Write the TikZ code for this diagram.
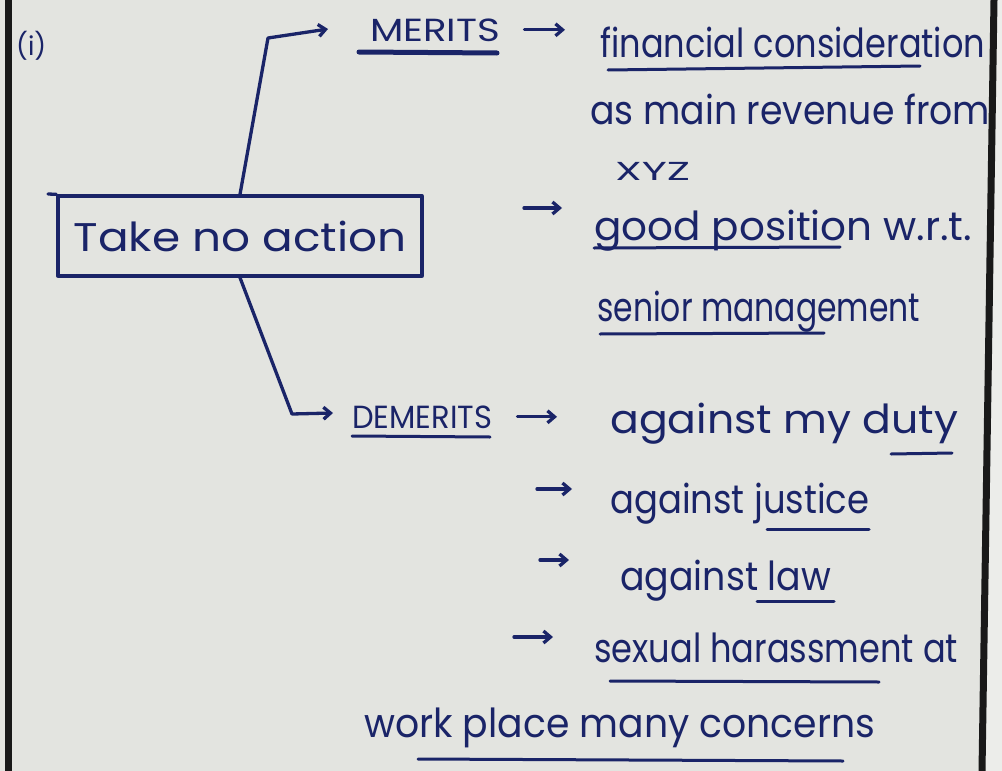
\documentclass[tikz,border=0pt]{standalone}
\usepackage{fontspec}
\setmainfont{Poppins}
\usetikzlibrary{arrows.meta}
\definecolor{paper}{RGB}{227,228,224}
\definecolor{paperlight}{RGB}{236,237,234}
\definecolor{ink}{RGB}{26,36,104}
% set a word group to a given width, keeping its height
\newcommand\fitto[2]{\resizebox{#1pt}{\height}{#2}}
\begin{document}
\begin{tikzpicture}[x=1pt,y=-1pt,
  pen/.style={draw=ink, line width=3.3pt, line cap=round, line join=round},
  arr/.style={pen, -{Straight Barb[length=7pt,width=12pt]}},
  words/.style={text=ink, inner sep=0pt, anchor=base west, font=\fontsize{40}{44}\selectfont},
  caps/.style={words, font=\fontsize{32}{36}\selectfont},
  small/.style={words, font=\fontsize{26}{30}\selectfont},
  boxed/.style={pen, text=ink, inner sep=0pt, minimum width=364pt, minimum height=80pt,
    font=\fontsize{40}{44}\selectfont},
  uline/.style={pen, line width=3pt}]
\useasboundingbox (0,0) rectangle (1002,771);
% paper
\fill[paper] (0,0) rectangle (1002,771);
\fill[paperlight] (992,0) -- (1002,0) -- (1002,771) -- (982,771) -- cycle;

% central box
\node[boxed] (box) at (240,236) {\fitto{333}{Take no action}};
\draw[pen] (48,194) -- (box.north west);

% headings
\node[small] (num) at (16,55) {\fitto{30}{(i)}};
\node[caps] (merits) at (370,41) {\fitto{130}{MERITS}};
\node[caps] (demerits) at (352,428) {\fitto{140}{DEMERITS}};

% merits
\node[words] (fin) at (600,57) {\fitto{385}{financial consideration}};
\node[words] (rev) at (590,124) {\fitto{400}{as main revenue from}};
\node[small] (xyz) at (615,180) {\fitto{75}{XYZ}};
\node[words] (pos) at (594,240) {\fitto{378}{good position w.r.t.}};
\node[words] (senior) at (597,321) {\fitto{323}{senior management}};

% demerits
\node[words] (duty) at (610,433) {\fitto{348}{against my duty}};
\node[words] (justice) at (610,513) {\fitto{259}{against justice}};
\node[words] (law) at (620,590) {\fitto{211}{against law}};
\node[words] (harass) at (594,662) {\fitto{364}{sexual harassment at}};
\node[words] (work) at (364,737) {\fitto{511}{work place many concerns}};

% branches out of the box
\coordinate (mtip) at (328,29);
\coordinate (dtip) at (333,413);
\draw[arr] (box.north) -- (268,38) -- (mtip);
\draw[arr] (box.south) -- (292,414) -- (dtip);

% arrows to the points
\draw[arr, shorten <=24pt, shorten >=35pt] (merits.east) -- (merits.east -| fin.west);
\draw[arr, shorten <=25pt, shorten >=53pt] (demerits.east) -- (demerits.east -| duty.west);
\coordinate (pA) at (524,208); \coordinate (pB) at (562,208);
\coordinate (jA) at (537,489); \coordinate (jB) at (572,489);
\coordinate (lA) at (540,560); \coordinate (lB) at (569,560);
\coordinate (hA) at (514,637); \coordinate (hB) at (553,637);
\draw[arr] (pA) -- (pB);
\draw[arr] (jA) -- (jB);
\draw[arr] (lA) -- (lB);
\draw[arr] (hA) -- (hB);

% underlines
\draw[uline, line width=5pt] (359,52) -- (497,53);
\draw[uline] (608,70) -- (920,66);
\draw[uline] (594,248) -- (840,247);
\draw[uline] (600,334) -- (824,333);
\draw[uline] (352,436) -- (490,437);
\draw[uline] (891,454) -- (952,453);
\draw[uline] (767,529) -- (869,529);
\draw[uline] (757,601) -- (834,601);
\draw[uline] (610,681) -- (879,682);
\draw[uline] (418,759) -- (843,761);

% page edges
\draw[line width=7pt, black!90] (8,0) -- (8,771);
\draw[line width=7pt, black!90] (994,0) -- (982,771);
\end{tikzpicture}
\end{document}
